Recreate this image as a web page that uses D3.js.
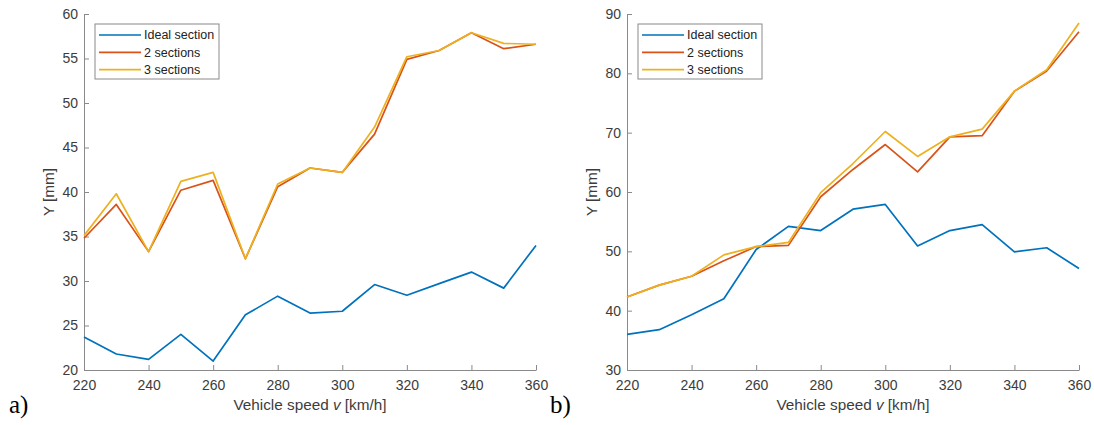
<!DOCTYPE html>
<html>
<head>
<meta charset="utf-8">
<script src="https://cdn.jsdelivr.net/npm/d3@7"></script>
<style>
  html, body { margin: 0; padding: 0; background: #fff; }
  svg { display: block; }
</style>
</head>
<body>
<svg id="chart" width="1094" height="425"></svg>
<script>
// Vehicle speed [km/h]
const speeds = [220, 230, 240, 250, 260, 270, 280, 290, 300, 310, 320, 330, 340, 350, 360];

// Panel a)
const aIdeal = [23.7, 21.8, 21.2, 24.0, 21.0, 26.2, 28.3, 26.4, 26.6, 29.6, 28.4, 29.7, 31.0, 29.2, 34.0];
const aTwo   = [34.8, 38.6, 33.3, 40.2, 41.3, 32.5, 40.6, 42.7, 42.2, 46.5, 54.9, 55.9, 57.9, 56.1, 56.6];
const aThree = [35.1, 39.8, 33.3, 41.2, 42.2, 32.5, 40.9, 42.7, 42.2, 47.3, 55.2, 55.9, 57.9, 56.7, 56.6];

// Panel b)
const bIdeal = [36.0, 36.8, 39.3, 42.0, 50.3, 54.2, 53.5, 57.1, 57.9, 50.9, 53.5, 54.5, 49.9, 50.6, 47.1];
const bTwo   = [42.3, 44.3, 45.8, 48.4, 50.8, 51.0, 59.2, 63.8, 68.0, 63.4, 69.3, 69.5, 77.0, 80.4, 87.0];
const bThree = [42.3, 44.3, 45.8, 49.4, 50.8, 51.5, 59.9, 64.8, 70.2, 66.0, 69.3, 70.6, 77.0, 80.6, 88.5];

const xTicks = [220, 240, 260, 280, 300, 320, 340, 360];
const aYTicks = [20, 25, 30, 35, 40, 45, 50, 55, 60];
const bYTicks = [30, 40, 50, 60, 70, 80, 90];

const seriesNames = ["Ideal section", "2 sections", "3 sections"];
const seriesColors = ["#0072BD", "#D95319", "#EDB120"];

const svg = d3.select("#chart");
const axisColor = "#8a8a8a";
const textColor = "#3c3c3c";
const font = "'Liberation Sans', Arial, sans-serif";

function panel(opts) {
  const { left, right, top, bottom, yDomain, yTicks, series, tag } = opts;
  const g = svg.append("g");
  const x = d3.scaleLinear().domain([220, 360]).range([left, right]);
  const y = d3.scaleLinear().domain(yDomain).range([bottom, top]);

  // x axis (ticks inward)
  const xAxis = g.append("g")
    .attr("transform", `translate(0,${bottom})`)
    .call(d3.axisBottom(x).tickValues(xTicks).tickSizeInner(-5).tickSizeOuter(0).tickPadding(10));
  // y axis (ticks inward)
  const yAxis = g.append("g")
    .attr("transform", `translate(${left},0)`)
    .call(d3.axisLeft(y).tickValues(yTicks).tickSizeInner(-5).tickSizeOuter(0).tickPadding(6));

  [xAxis, yAxis].forEach(ax => {
    ax.select(".domain").attr("stroke", axisColor).attr("stroke-width", 1);
    ax.selectAll(".tick line").attr("stroke", axisColor);
    ax.selectAll(".tick text")
      .attr("fill", textColor)
      .style("font-family", font)
      .style("font-size", "14px");
  });

  // axis titles
  g.append("text")
    .attr("x", (left + right) / 2).attr("y", bottom + 40)
    .attr("text-anchor", "middle")
    .attr("fill", textColor)
    .style("font-family", font).style("font-size", "15.3px")
    .html('Vehicle speed <tspan font-style="italic">v</tspan> [km/h]');

  g.append("text")
    .attr("transform", `translate(${left - 30},${(top + bottom) / 2}) rotate(-90)`)
    .attr("text-anchor", "middle")
    .attr("fill", textColor)
    .style("font-family", font).style("font-size", "15.3px")
    .text("Y [mm]");

  // series lines
  const line = d3.line().x((d, i) => x(speeds[i])).y(d => y(d));
  series.forEach((vals, k) => {
    g.append("path")
      .datum(vals)
      .attr("fill", "none")
      .attr("stroke", seriesColors[k])
      .attr("stroke-width", 1.7)
      .attr("stroke-linejoin", "round")
      .attr("d", line);
  });

  // legend
  const lx = left + 11, ly = top + 10, lw = 124, lh = 55;
  const leg = g.append("g");
  leg.append("rect")
    .attr("x", lx).attr("y", ly).attr("width", lw).attr("height", lh)
    .attr("fill", "#fff").attr("stroke", "#8a8a8a").attr("stroke-width", 1);
  seriesNames.forEach((name, k) => {
    const cy = ly + 11 + k * 17.3;
    leg.append("line")
      .attr("x1", lx + 4).attr("x2", lx + 46)
      .attr("y1", cy).attr("y2", cy)
      .attr("stroke", seriesColors[k]).attr("stroke-width", 1.7);
    leg.append("text")
      .attr("x", lx + 49).attr("y", cy + 4.3)
      .attr("fill", "#222")
      .style("font-family", font).style("font-size", "12.5px")
      .text(name);
  });

  // panel tag
  g.append("text")
    .attr("x", tag.x).attr("y", 413)
    .attr("fill", "#000")
    .style("font-family", "'Liberation Serif', 'Times New Roman', serif")
    .style("font-size", "25px")
    .text(tag.text);
}

panel({
  left: 84, right: 536, top: 14, bottom: 370,
  yDomain: [20, 60], yTicks: aYTicks,
  series: [aIdeal, aTwo, aThree],
  tag: { x: 9, text: "a)" }
});

panel({
  left: 627, right: 1079, top: 14, bottom: 370,
  yDomain: [30, 90], yTicks: bYTicks,
  series: [bIdeal, bTwo, bThree],
  tag: { x: 550, text: "b)" }
});
</script>
</body>
</html>
